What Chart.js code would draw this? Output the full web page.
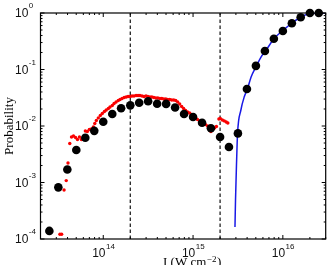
<!DOCTYPE html>
<html>
<head>
<meta charset="utf-8">
<title>Probability vs intensity</title>
<script src="https://cdn.jsdelivr.net/npm/chart.js@4.4.0/dist/chart.umd.min.js"></script>
<style>
  html, body { margin: 0; padding: 0; background: #fff; overflow: hidden; }
  #wrap { width: 330px; height: 265px; position: relative; }
</style>
</head>
<body>
<div id="wrap"><canvas id="probChart"></canvas></div>
<script>
// black dots
var dotX = [2.51e13, 3.16e13, 3.98e13, 5.01e13, 6.31e13, 7.94e13, 1.0e14, 1.26e14, 1.58e14, 2.0e14,
            2.51e14, 3.16e14, 3.98e14, 5.01e14, 6.31e14, 7.94e14, 1.0e15, 1.26e15, 1.58e15, 2.0e15,
            2.51e15, 3.16e15, 3.98e15, 5.01e15, 6.31e15, 7.94e15, 1.0e16, 1.26e16, 1.58e16, 2.0e16, 2.51e16];
var dotY = [1.39e-4, 8.2e-4, 1.7e-3, 3.76e-3, 6.2e-3, 8.2e-3, 1.19e-2, 1.63e-2, 2.06e-2, 2.32e-2,
            2.58e-2, 2.74e-2, 2.48e-2, 2.46e-2, 2.12e-2, 1.63e-2, 1.44e-2, 1.14e-2, 9.1e-3, 6.4e-3,
            4.25e-3, 7.4e-3, 4.52e-2, 0.116, 0.212, 0.351, 0.48, 0.657, 0.84, 1.0, 1.0];

// red trace
var redX = [3.29e13, 3.44e13, 3.66e13, 3.87e13, 4.05e13, 4.24e13, 4.43e13, 4.66e13, 4.91e13, 5.16e13,
            5.43e13, 5.71e13, 6.01e13, 6.32e13, 6.65e13, 7.0e13, 7.37e13, 7.76e13, 8.05e13, 8.37e13,
            8.81e13, 9.27e13, 9.75e13, 1.03e14, 1.08e14, 1.14e14, 1.19e14, 1.26e14, 1.32e14, 1.39e14,
            1.47e14, 1.54e14, 1.62e14, 1.71e14, 1.80e14, 1.89e14, 1.99e14, 2.09e14, 2.20e14, 2.32e14,
            2.44e14, 2.56e14, 2.70e14, 2.84e14, 2.99e14, 3.14e14, 3.31e14, 3.48e14, 3.66e14, 3.85e14,
            4.05e14, 4.27e14, 4.49e14, 4.72e14, 4.97e14, 5.22e14, 5.50e14, 5.78e14, 6.09e14, 6.41e14,
            6.74e14, 7.09e14, 7.46e14, 7.85e14, 8.26e14, 8.69e14, 9.15e14, 9.62e14, 1.01e15, 1.07e15,
            1.12e15, 1.18e15, 1.24e15, 1.31e15, 1.37e15, 1.45e15, 1.52e15, 1.58e15, 1.64e15, 1.73e15,
            1.82e15, 1.94e15, 2.01e15, 2.12e15, 2.23e15, 2.34e15, 2.44e15];
var redY = [1.21e-4, 1.21e-4, 7.36e-4, 1.08e-3, 2.21e-3, 4.9e-3, 6.39e-3, 6.65e-3, 6.26e-3, 5.77e-3,
            6.39e-3, 5.77e-3, 6.39e-3, 8.16e-3, 8.0e-3, 8.67e-3, 8.85e-3, 9.6e-3, 1.11e-2, 1.25e-2,
            1.39e-2, 1.53e-2, 1.66e-2, 1.81e-2, 1.92e-2, 2.04e-2, 2.17e-2, 2.31e-2, 2.50e-2, 2.66e-2,
            2.83e-2, 2.94e-2, 3.07e-2, 3.19e-2, 3.26e-2, 3.33e-2, 3.33e-2, 3.40e-2, 3.40e-2, 3.47e-2,
            3.47e-2, 3.47e-2, 3.40e-2, 3.33e-2, 3.40e-2, 3.33e-2, 3.26e-2, 3.26e-2, 3.19e-2, 3.13e-2,
            3.13e-2, 3.07e-2, 3.07e-2, 3.01e-2, 3.01e-2, 2.94e-2, 2.94e-2, 2.88e-2, 2.88e-2, 2.83e-2,
            2.66e-2, 2.45e-2, 2.21e-2, 2.04e-2, 1.88e-2, 1.77e-2, 1.70e-2, 1.60e-2, 1.50e-2, 1.39e-2,
            1.30e-2, 1.23e-2, 1.18e-2, 1.13e-2, 1.06e-2, 1.0e-2, 9.2e-3, 8.0e-3, 8.67e-3, 9.2e-3,
            9.8e-3, 1.33e-2, 1.36e-2, 1.28e-2, 1.23e-2, 1.18e-2, 1.13e-2];

// blue fit curve
var fitX = [2.93e15, 2.97e15, 3.04e15, 3.13e15, 3.41e15, 3.71e15, 4.03e15, 4.43e15, 5.07e15,
            5.71e15, 6.41e15, 7.96e15, 1.0e16, 1.26e16, 1.6e16, 1.99e16, 2.5e16, 3.0e16];
var fitY = [1.63e-4, 4.9e-4, 1.88e-3, 7.4e-3, 1.92e-2, 3.26e-2, 4.5e-2, 7.4e-2, 0.115,
            0.166, 0.212, 0.351, 0.49, 0.665, 0.85, 0.98, 1.0, 1.0];

// dashed vertical markers
var markerX = [2e14, 2e15];

var xRange = [2e13, 3e16];
var yRange = [1e-4, 1];
var xTickExps = [14, 15, 16];
var yTickExps = [-4, -3, -2, -1, 0];

function pairs(xs, ys) {
    return xs.map(function (x, i) { return { x: x, y: ys[i] }; });
}

// 1..9 x 10^n ticks inside the range
function logTicks(min, max) {
    var out = [];
    for (var e = Math.floor(Math.log10(min)); e <= Math.ceil(Math.log10(max)); e++) {
        for (var m = 1; m < 10; m++) {
            var v = m * Math.pow(10, e);
            if (v >= min * 0.999 && v <= max * 1.001) out.push({ value: v, major: m === 1 });
        }
    }
    return out;
}

var datasets = [
    {
        data: pairs(dotX, dotY),
        backgroundColor: '#000',
        pointRadius: 4.3,
        pointBorderWidth: 0,
        clip: false
    },
    {
        data: pairs(fitX, fitY),
        showLine: true,
        borderColor: 'rgb(25,25,230)',
        borderWidth: 1.5,
        pointRadius: 0,
        cubicInterpolationMode: 'monotone'
    },
    {
        data: pairs(redX, redY),
        backgroundColor: 'rgb(250,0,0)',
        pointRadius: 1.7,
        pointBorderWidth: 0
    }
];
markerX.forEach(function (mx) {
    datasets.push({
        data: [{ x: mx, y: yRange[0] }, { x: mx, y: yRange[1] }],
        showLine: true,
        borderColor: '#222',
        borderWidth: 1.3,
        borderDash: [3.5, 2.5],
        pointRadius: 0
    });
});

// frame, inward ticks, tick labels and x title
var axesPlugin = {
    id: 'axes',
    afterDraw: function (chart) {
        var ctx = chart.ctx, a = chart.chartArea;
        var xs = chart.scales.x, ys = chart.scales.y;
        ctx.save();
        ctx.strokeStyle = '#000';
        ctx.lineWidth = 1.2;
        ctx.strokeRect(a.left, a.top, a.right - a.left, a.bottom - a.top);

        ctx.lineWidth = 1;
        ctx.beginPath();
        xs.ticks.forEach(function (t) {
            var px = xs.getPixelForValue(t.value);
            var len = t.major ? 4 : 2;
            ctx.moveTo(px, a.bottom); ctx.lineTo(px, a.bottom - len);
            ctx.moveTo(px, a.top); ctx.lineTo(px, a.top + len);
        });
        ys.ticks.forEach(function (t) {
            var py = ys.getPixelForValue(t.value);
            var len = t.major ? 4 : 2;
            ctx.moveTo(a.left, py); ctx.lineTo(a.left + len, py);
            ctx.moveTo(a.right, py); ctx.lineTo(a.right - len, py);
        });
        ctx.stroke();

        ctx.fillStyle = '#111';
        ctx.textBaseline = 'alphabetic';
        ctx.textAlign = 'left';
        xTickExps.forEach(function (e) {
            var px = xs.getPixelForValue(Math.pow(10, e));
            ctx.font = '12px "Liberation Sans"';
            var w1 = ctx.measureText('10').width;
            ctx.font = '8px "Liberation Sans"';
            var w2 = ctx.measureText(String(e)).width;
            var x0 = px - (w1 + w2) / 2;
            ctx.font = '12px "Liberation Sans"';
            ctx.fillText('10', x0, a.bottom + 18);
            ctx.font = '8px "Liberation Sans"';
            ctx.fillText(String(e), x0 + w1 + 0.5, a.bottom + 9.5);
        });
        yTickExps.forEach(function (e) {
            var py = ys.getPixelForValue(Math.pow(10, e));
            ctx.font = '12px "Liberation Sans"';
            var w1 = ctx.measureText('10').width;
            ctx.fillText('10', 15, py + 4.4);
            ctx.font = '8px "Liberation Sans"';
            ctx.fillText(String(e), 15 + w1 + 0.5, py - 5);
        });

        // x title, mostly below the visible area
        ctx.fillStyle = '#000';
        ctx.font = '13px "Liberation Serif"';
        var tx = 163, ty = 266;
        ctx.fillText('I (W cm', tx, ty);
        tx += ctx.measureText('I (W cm').width;
        ctx.font = '9px "Liberation Serif"';
        ctx.fillText('\u22122', tx + 0.5, ty - 4.5);
        tx += ctx.measureText('\u22122').width + 1;
        ctx.font = '13px "Liberation Serif"';
        ctx.fillText(')', tx, ty);
        ctx.restore();
    }
};

var ctx = document.getElementById('probChart').getContext('2d');
var probChart = new Chart(ctx, {
    type: 'scatter',
    data: { datasets: datasets },
    options: {
        responsive: true,
        maintainAspectRatio: false,
        animation: false,
        events: [],
        layout: { padding: { top: 13, right: 2.5, left: 0, bottom: 0 } },
        plugins: { legend: { display: false }, tooltip: { enabled: false } },
        scales: {
            x: {
                type: 'logarithmic',
                min: xRange[0],
                max: xRange[1],
                grid: { display: false },
                border: { display: false },
                ticks: { display: false },
                afterBuildTicks: function (scale) { scale.ticks = logTicks(xRange[0], xRange[1]); },
                afterFit: function (scale) { scale.height = 26; }
            },
            y: {
                type: 'logarithmic',
                min: yRange[0],
                max: yRange[1],
                grid: { display: false },
                border: { display: false },
                ticks: { display: false },
                title: {
                    display: true,
                    text: 'Probability',
                    color: '#000',
                    font: { family: 'Liberation Serif', size: 13 },
                    padding: { top: 2, bottom: 0 }
                },
                afterBuildTicks: function (scale) { scale.ticks = logTicks(yRange[0], yRange[1]); },
                afterFit: function (scale) { scale.width = 40.5; }
            }
        }
    },
    plugins: [axesPlugin]
});
</script>
</body>
</html>
